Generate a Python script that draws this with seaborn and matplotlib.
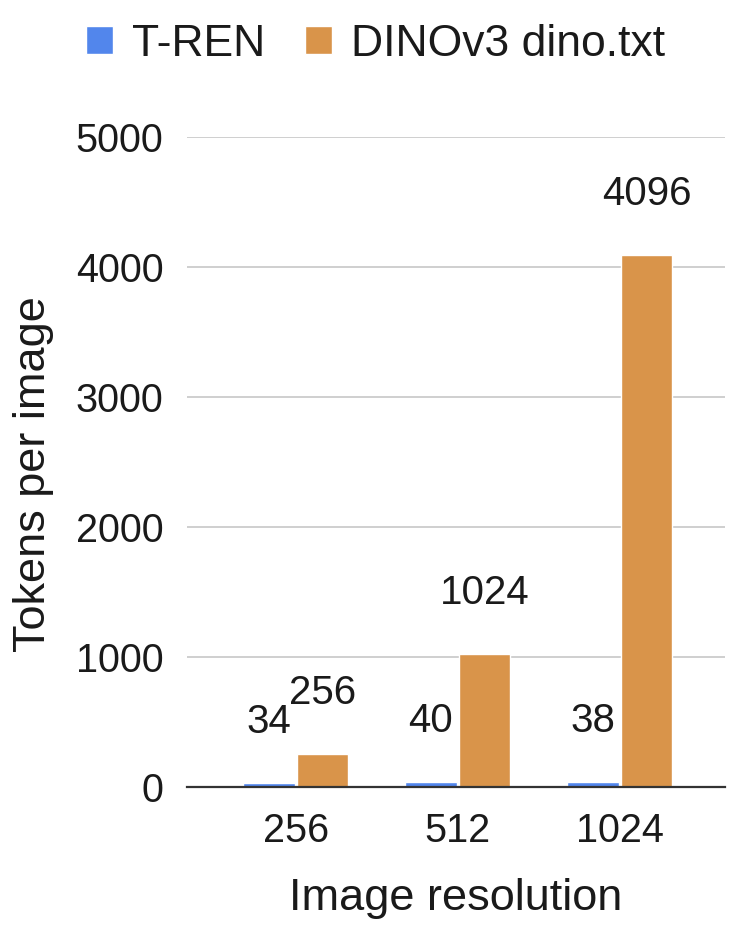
import matplotlib
matplotlib.use("Agg")
import matplotlib.pyplot as plt
import pandas as pd
import seaborn as sns

# chart data
resolutions = ["256", "512", "1024"]
series_names = ["T-REN", "DINOv3 dino.txt"]
tren_tokens = [34, 40, 38]
dino_tokens = [256, 1024, 4096]
y_ticks = [0, 1000, 2000, 3000, 4000, 5000]

colors = {"T-REN": "#5286EC", "DINOv3 dino.txt": "#D9944A"}

df = pd.DataFrame({
    "Image resolution": resolutions * 2,
    "Tokens": tren_tokens + dino_tokens,
    "Model": [series_names[0]] * 3 + [series_names[1]] * 3,
})

sns.set_style("white")
plt.rcParams["font.family"] = ["Liberation Sans", "DejaVu Sans"]
text_col = "#1a1a1a"

fig = plt.figure(figsize=(7.44, 9.40), dpi=100)
ax = fig.add_axes([187 / 744, 153 / 940, 538 / 744, 650 / 940])

sns.barplot(data=df, x="Image resolution", y="Tokens", hue="Model",
            order=resolutions, hue_order=series_names, palette=colors,
            width=0.66, gap=0.04, saturation=1, ax=ax)

# value labels above each bar
for cont, vals in zip(ax.containers, [tren_tokens, dino_tokens]):
    for bar, v in zip(cont, vals):
        ax.annotate(str(v), (bar.get_x() + bar.get_width() / 2, bar.get_height()),
                    xytext=(0, 36), textcoords="offset points",
                    ha="center", va="baseline", fontsize=29, color=text_col)

ax.set_ylim(0, 5000)
ax.set_xlim(-0.67, 2.65)
ax.set_yticks(y_ticks)
ax.set_axisbelow(True)
ax.yaxis.grid(True, color="#cccccc", lw=1.3)
ax.xaxis.grid(False)
for s in ["top", "right", "left"]:
    ax.spines[s].set_visible(False)
ax.spines["bottom"].set_color("#333333")
ax.spines["bottom"].set_linewidth(1.6)
ax.tick_params(axis="y", length=0, pad=17, labelsize=28.5, labelcolor=text_col)
ax.tick_params(axis="x", length=0, pad=18, labelsize=28.5, labelcolor=text_col)

ax.set_xlabel("Image resolution", fontsize=32.5, color=text_col, labelpad=20)
ax.set_ylabel("")
fig.text(34 / 744, 1 - 474 / 940, "Tokens per image", rotation=90,
         ha="center", va="center", fontsize=32.5, color=text_col)

handles, labels = ax.get_legend_handles_labels()
ax.get_legend().remove()
fig.legend(handles, labels, loc="center", bbox_to_anchor=(0.505, 1 - 44 / 940),
           ncol=2, frameon=False, fontsize=32, handlelength=0.61,
           handleheight=0.61, handletextpad=0.43, columnspacing=0.88,
           labelcolor=text_col)

fig.savefig("out.png", dpi=100)
